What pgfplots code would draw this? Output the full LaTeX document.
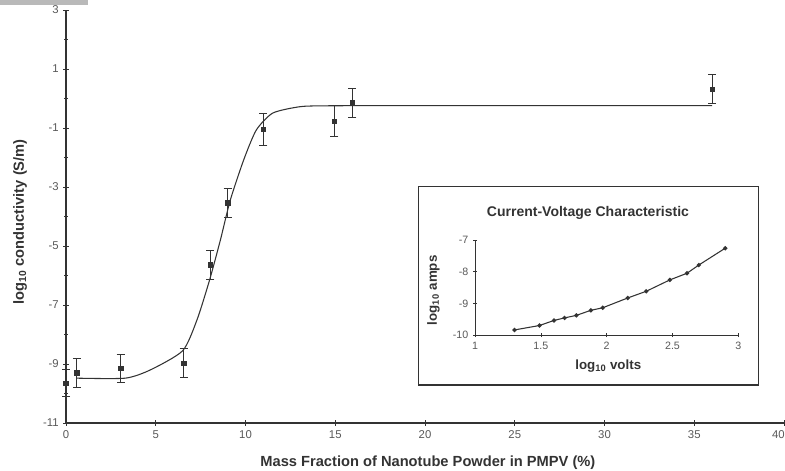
\documentclass[border=0pt]{standalone}
\usepackage{fontspec}
\setmainfont{Liberation Sans}
\usepackage{pgfplots}
\pgfplotsset{compat=1.18}
\definecolor{ink}{gray}{0.2}
\definecolor{tickc}{gray}{0.35}
\begin{document}
\begin{tikzpicture}
\fill[gray!55] (0pt,0pt) rectangle (66pt,-4pt);
\begin{axis}[
  at={(49.5pt,-317.25pt)}, anchor=south west,
  scale only axis, width=538.5pt, height=309.75pt,
  xmin=0, xmax=40, ymin=-11, ymax=3,
  axis lines=left, axis line style={ink, line width=0.8pt, -},
  xtick={0,5,...,35}, ytick={-11,-9,...,3},
  extra x ticks={40},
  extra x tick style={xticklabel style={anchor=north east, xshift=4pt}},
  minor ytick={-10,-8,...,2},
  tick align=center, major tick length=4pt, minor tick length=3pt,
  tick style={ink, line width=0.6pt},
  /pgf/number format/assume math mode=true,
  ticklabel style={font=\fontsize{8.5}{9}\selectfont, text=tickc},
  xlabel={Mass Fraction of Nanotube Powder in PMPV (\%)},
  ylabel={log\textsubscript{10} conductivity (S/m)},
  xlabel style={at={(axis description cs:0.504,-0.097)}, anchor=center, font=\fontsize{11}{12}\selectfont\bfseries, text=ink},
  ylabel style={at={(axis description cs:-0.064,0.487)}, anchor=center, font=\fontsize{11}{12}\selectfont\bfseries, text=ink},
  clip=false,
]
\addplot[ink, line width=0.8pt, smooth, tension=0.4] coordinates {
 (0.6,-9.48) (3.3,-9.48) (4.7,-9.2) (6.5,-8.55) (7.3,-7.5) (8.0,-6.15) (8.6,-4.8) (9.15,-3.45) (9.9,-2.08) (10.6,-1.07) (11.5,-0.5) (12.8,-0.3) (14,-0.25) (20,-0.24) (36,-0.24)
};
\addplot[only marks, mark=square*, mark size=1.7pt, mark options={fill=ink, draw=ink}, ink,
  error bars/.cd, y dir=both, y explicit, error mark options={rotate=90, mark size=3pt, ink, line width=0.7pt},
  error bar style={ink, line width=0.7pt}]
 coordinates {
 (0,-9.65) +- (0,0.45)
 (0.6,-9.3) +- (0,0.48)
 (3.05,-9.14) +- (0,0.48)
 (6.55,-8.97) +- (0,0.48)
 (8.05,-5.64) +- (0,0.5)
 (9.0,-3.54) +- (0,0.5)
 (11.0,-1.05) +- (0,0.54)
 (14.95,-0.77) +- (0,0.52)
 (15.95,-0.15) +- (0,0.49)
 (36.0,0.32) +- (0,0.48)
};
\end{axis}
% inset
\filldraw[fill=white, draw=ink, line width=0.8pt] (313.7pt,-140pt) rectangle (568.7pt,-288.75pt);
\node[font=\fontsize{10.5}{12}\selectfont\bfseries, text=ink] at (441pt,-159.75pt) {Current-Voltage Characteristic};
\begin{axis}[
  at={(356.25pt,-251.25pt)}, anchor=south west,
  scale only axis, width=197.5pt, height=71.25pt,
  xmin=1, xmax=3, ymin=-10, ymax=-7,
  axis lines=left, axis line style={ink, line width=0.7pt, -},
  xtick={1,1.5,2,2.5,3}, ytick={-10,-9,-8,-7},
  tick align=center, major tick length=3pt,
  tick style={ink, line width=0.5pt},
  /pgf/number format/assume math mode=true,
  ticklabel style={font=\fontsize{8}{9}\selectfont, text=tickc},
  xlabel={log\textsubscript{10} volts},
  ylabel={log\textsubscript{10} amps},
  xlabel style={at={(axis description cs:0.506,-0.33)}, anchor=center, font=\fontsize{10}{11}\selectfont\bfseries, text=ink},
  ylabel style={at={(axis description cs:-0.158,0.47)}, anchor=center, font=\fontsize{10}{11}\selectfont\bfseries, text=ink},
  clip=false,
]
\addplot[ink, line width=0.8pt, mark=*, mark size=1.2pt, mark options={fill=ink}] coordinates {
 (1.30,-9.84) (1.49,-9.70) (1.60,-9.54) (1.68,-9.46) (1.77,-9.38) (1.88,-9.22) (1.97,-9.14)
 (2.16,-8.83) (2.30,-8.62) (2.48,-8.26) (2.61,-8.05) (2.70,-7.79) (2.90,-7.26)
};
\end{axis}
\pgfresetboundingbox
\useasboundingbox (0pt,0pt) rectangle (588.75pt,-353.25pt);
\end{tikzpicture}
\end{document}
